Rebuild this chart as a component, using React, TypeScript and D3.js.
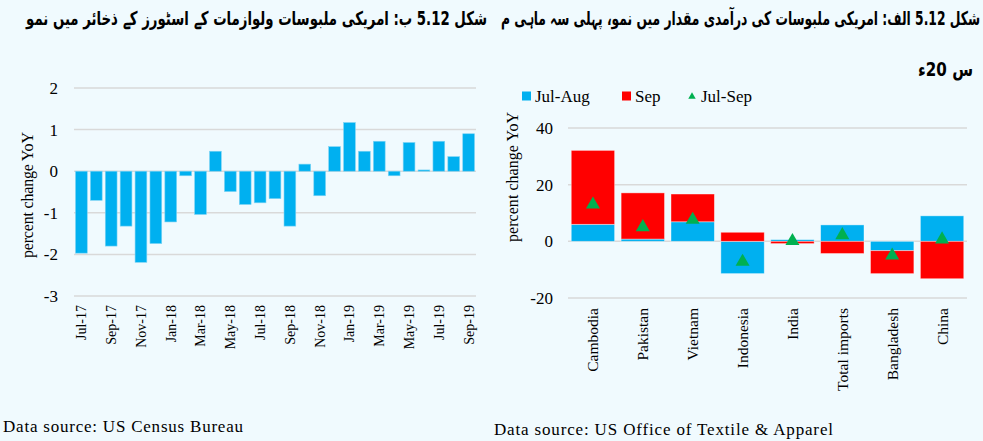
import { useEffect, useRef } from "react"
import * as d3 from "d3"

const months = [
  "Jul-17", "Aug-17", "Sep-17", "Oct-17", "Nov-17", "Dec-17",
  "Jan-18", "Feb-18", "Mar-18", "Apr-18", "May-18", "Jun-18",
  "Jul-18", "Aug-18", "Sep-18", "Oct-18", "Nov-18", "Dec-18",
  "Jan-19", "Feb-19", "Mar-19", "Apr-19", "May-19", "Jun-19",
  "Jul-19", "Aug-19", "Sep-19",
]
const storeGrowth = [
  -1.97, -0.7, -1.8, -1.32, -2.19, -1.74,
  -1.22, -0.11, -1.04, 0.48, -0.49, -0.8,
  -0.76, -0.66, -1.32, 0.17, -0.59, 0.59,
  1.17, 0.48, 0.72, -0.11, 0.69, 0.03,
  0.72, 0.35, 0.9,
]
const leftTicks = [2, 1, 0, -1, -2, -3]

const countries = ["Cambodia", "Pakistan", "Vietnam", "Indonesia", "India", "Total imports", "Bangladesh", "China"]
const julAug = [6.0, 0.8, 6.9, -11.4, 0.6, 5.8, -3.3, 9.0]
const sep = [26.1, 16.3, 9.8, 3.2, -0.8, -4.3, -8.1, -13.2]
const julSep = [13.0, 5.0, 7.6, -7.2, 0.1, 2.2, -5.0, 0.7]
const rightTicks = [40, 20, 0, -20]

const titleLeft = "شکل 5.12 ب: امریکی ملبوسات ولوازمات کے اسٹورز کے ذخائر میں نمو"
const titleRight1 = "شکل 5.12 الف: امریکی ملبوسات کی درآمدی مقدار میں نمو، پہلی سہ ماہی م"
const titleRight2 = "س 20ء"

const BLUE = "#00B0F0"
const RED = "#FF0000"
const GREEN = "#00B050"
const GRID = "#D9D9D9"
const SERIF = "'Liberation Serif', 'Times New Roman', serif"
const URDU = "'DejaVu Sans', sans-serif"

export default function App() {
  const svgRef = useRef<SVGSVGElement>(null)

  useEffect(() => {
    if (!svgRef.current) return
    const svg = d3.select(svgRef.current)
    svg.selectAll("*").remove()

    svg.append("rect").attr("width", 983).attr("height", 441).attr("fill", "#F0FAFE")

    // titles: right-aligned, stretched horizontally to the reference width
    const title = (txt: string, right: number, y: number, width: number) => {
      const t = svg.append("text")
        .attr("text-anchor", "end")
        .attr("font-family", URDU)
        .attr("font-weight", "bold")
        .attr("font-size", 19)
        .text(txt)
      const len = (t.node() as SVGTextElement).getComputedTextLength() || width
      t.attr("transform", `translate(${right},${y}) scale(${width / len},1)`)
    }
    title(titleLeft, 487, 25, 462)
    title(titleRight1, 980, 25, 480)
    title(titleRight2, 973, 76, 55)

    // ---------- left chart ----------
    const xL = d3.scaleBand().domain(months).range([74, 476]).paddingInner(0.21).paddingOuter(0.1)
    const yL = d3.scaleLinear().domain([-3, 2]).range([296, 88])
    const gL = svg.append("g")

    gL.selectAll("line.grid").data(leftTicks).join("line")
      .attr("x1", 74).attr("x2", 476)
      .attr("y1", (d) => yL(d)).attr("y2", (d) => yL(d))
      .attr("stroke", GRID).attr("stroke-width", 1.5)

    gL.selectAll("rect.bar").data(storeGrowth).join("rect")
      .attr("x", (_, i) => xL(months[i])!)
      .attr("width", xL.bandwidth())
      .attr("y", (d) => yL(Math.max(0, d)))
      .attr("height", (d) => Math.abs(yL(d) - yL(0)))
      .attr("fill", BLUE)
      .attr("stroke", "#7fd4f4").attr("stroke-width", 0.6)

    gL.selectAll("text.tick").data(leftTicks).join("text")
      .attr("x", 58).attr("y", (d) => yL(d))
      .attr("dy", "0.35em")
      .attr("text-anchor", "end")
      .attr("font-family", SERIF).attr("font-size", 17)
      .text((d) => String(d))

    gL.selectAll("text.month").data(months.filter((_, i) => i % 2 === 0)).join("text")
      .attr("transform", (d) => `translate(${xL(d)! + xL.bandwidth() / 2},305) rotate(-90)`)
      .attr("dy", "0.35em")
      .attr("text-anchor", "end")
      .attr("font-family", SERIF).attr("font-size", 14)
      .text((d) => d)

    gL.append("text")
      .attr("transform", "translate(27,195) rotate(-90)")
      .attr("dy", "0.35em")
      .attr("text-anchor", "middle")
      .attr("font-family", SERIF).attr("font-size", 16)
      .attr("textLength", 126)
      .text("percent change YoY")

    svg.append("text")
      .attr("x", 3).attr("y", 432)
      .attr("font-family", SERIF).attr("font-size", 17)
      .attr("textLength", 240)
      .text("Data source: US Census Bureau")

    // ---------- right chart ----------
    const xR = d3.scaleBand().domain(countries).range([568, 967]).paddingInner(0.13).paddingOuter(0.065)
    const yR = d3.scaleLinear().domain([-20, 40]).range([298, 128])
    const gR = svg.append("g")

    gR.selectAll("line.grid").data(rightTicks).join("line")
      .attr("x1", 568).attr("x2", 967)
      .attr("y1", (d) => yR(d)).attr("y2", (d) => yR(d))
      .attr("stroke", GRID).attr("stroke-width", 1.5)

    const table = countries.map((c, i) => ({ country: c, julAug: julAug[i], sep: sep[i] }))
    const stacked = d3.stack<{ country: string; julAug: number; sep: number }>()
      .keys(["julAug", "sep"])
      .offset(d3.stackOffsetDiverging)(table)
    const colors = [BLUE, RED]

    stacked.forEach((layer, li) => {
      gR.append("g").selectAll("rect").data(layer).join("rect")
        .attr("x", (d) => xR(d.data.country)!)
        .attr("width", xR.bandwidth())
        .attr("y", (d) => yR(Math.max(d[0], d[1])))
        .attr("height", (d) => Math.abs(yR(d[0]) - yR(d[1])))
        .attr("fill", colors[li])
        .attr("stroke", "#ffffff").attr("stroke-opacity", 0.5).attr("stroke-width", 0.8)
    })

    const tri = d3.symbol().type(d3.symbolTriangle).size(85)
    gR.selectAll("path.tri").data(julSep).join("path")
      .attr("transform", (d, i) => `translate(${xR(countries[i])! + xR.bandwidth() / 2},${yR(d)})`)
      .attr("d", tri())
      .attr("fill", GREEN)

    gR.selectAll("text.tick").data(rightTicks).join("text")
      .attr("x", 553).attr("y", (d) => yR(d))
      .attr("dy", "0.35em")
      .attr("text-anchor", "end")
      .attr("font-family", SERIF).attr("font-size", 17)
      .text((d) => String(d))

    gR.selectAll("text.cat").data(countries).join("text")
      .attr("transform", (d) => `translate(${xR(d)! + xR.bandwidth() / 2},308) rotate(-90)`)
      .attr("dy", "0.35em")
      .attr("text-anchor", "end")
      .attr("font-family", SERIF).attr("font-size", 15.5)
      .text((d) => d)

    gR.append("text")
      .attr("transform", "translate(512,177) rotate(-90)")
      .attr("dy", "0.35em")
      .attr("text-anchor", "middle")
      .attr("font-family", SERIF).attr("font-size", 16)
      .attr("textLength", 130)
      .text("percent change YoY")

    // legend
    const lg = svg.append("g").attr("font-family", SERIF).attr("font-size", 17)
    lg.append("rect").attr("x", 522).attr("y", 91.5).attr("width", 9).attr("height", 9).attr("fill", BLUE)
    lg.append("text").attr("x", 535).attr("y", 101.5).text("Jul-Aug")
    lg.append("rect").attr("x", 622).attr("y", 91.5).attr("width", 9).attr("height", 9).attr("fill", RED)
    lg.append("text").attr("x", 635).attr("y", 101.5).text("Sep")
    lg.append("path")
      .attr("transform", "translate(692,96.5)")
      .attr("d", d3.symbol().type(d3.symbolTriangle).size(24)())
      .attr("fill", GREEN)
    lg.append("text").attr("x", 701).attr("y", 101.5).text("Jul-Sep")

    svg.append("text")
      .attr("x", 494).attr("y", 435)
      .attr("font-family", SERIF).attr("font-size", 17)
      .attr("textLength", 339)
      .text("Data source: US Office of Textile & Apparel")
  }, [])

  return (
    <svg
      ref={svgRef}
      width={983}
      height={441}
      style={{ position: "absolute", left: 0, top: 0, display: "block" }}
    />
  )
}
